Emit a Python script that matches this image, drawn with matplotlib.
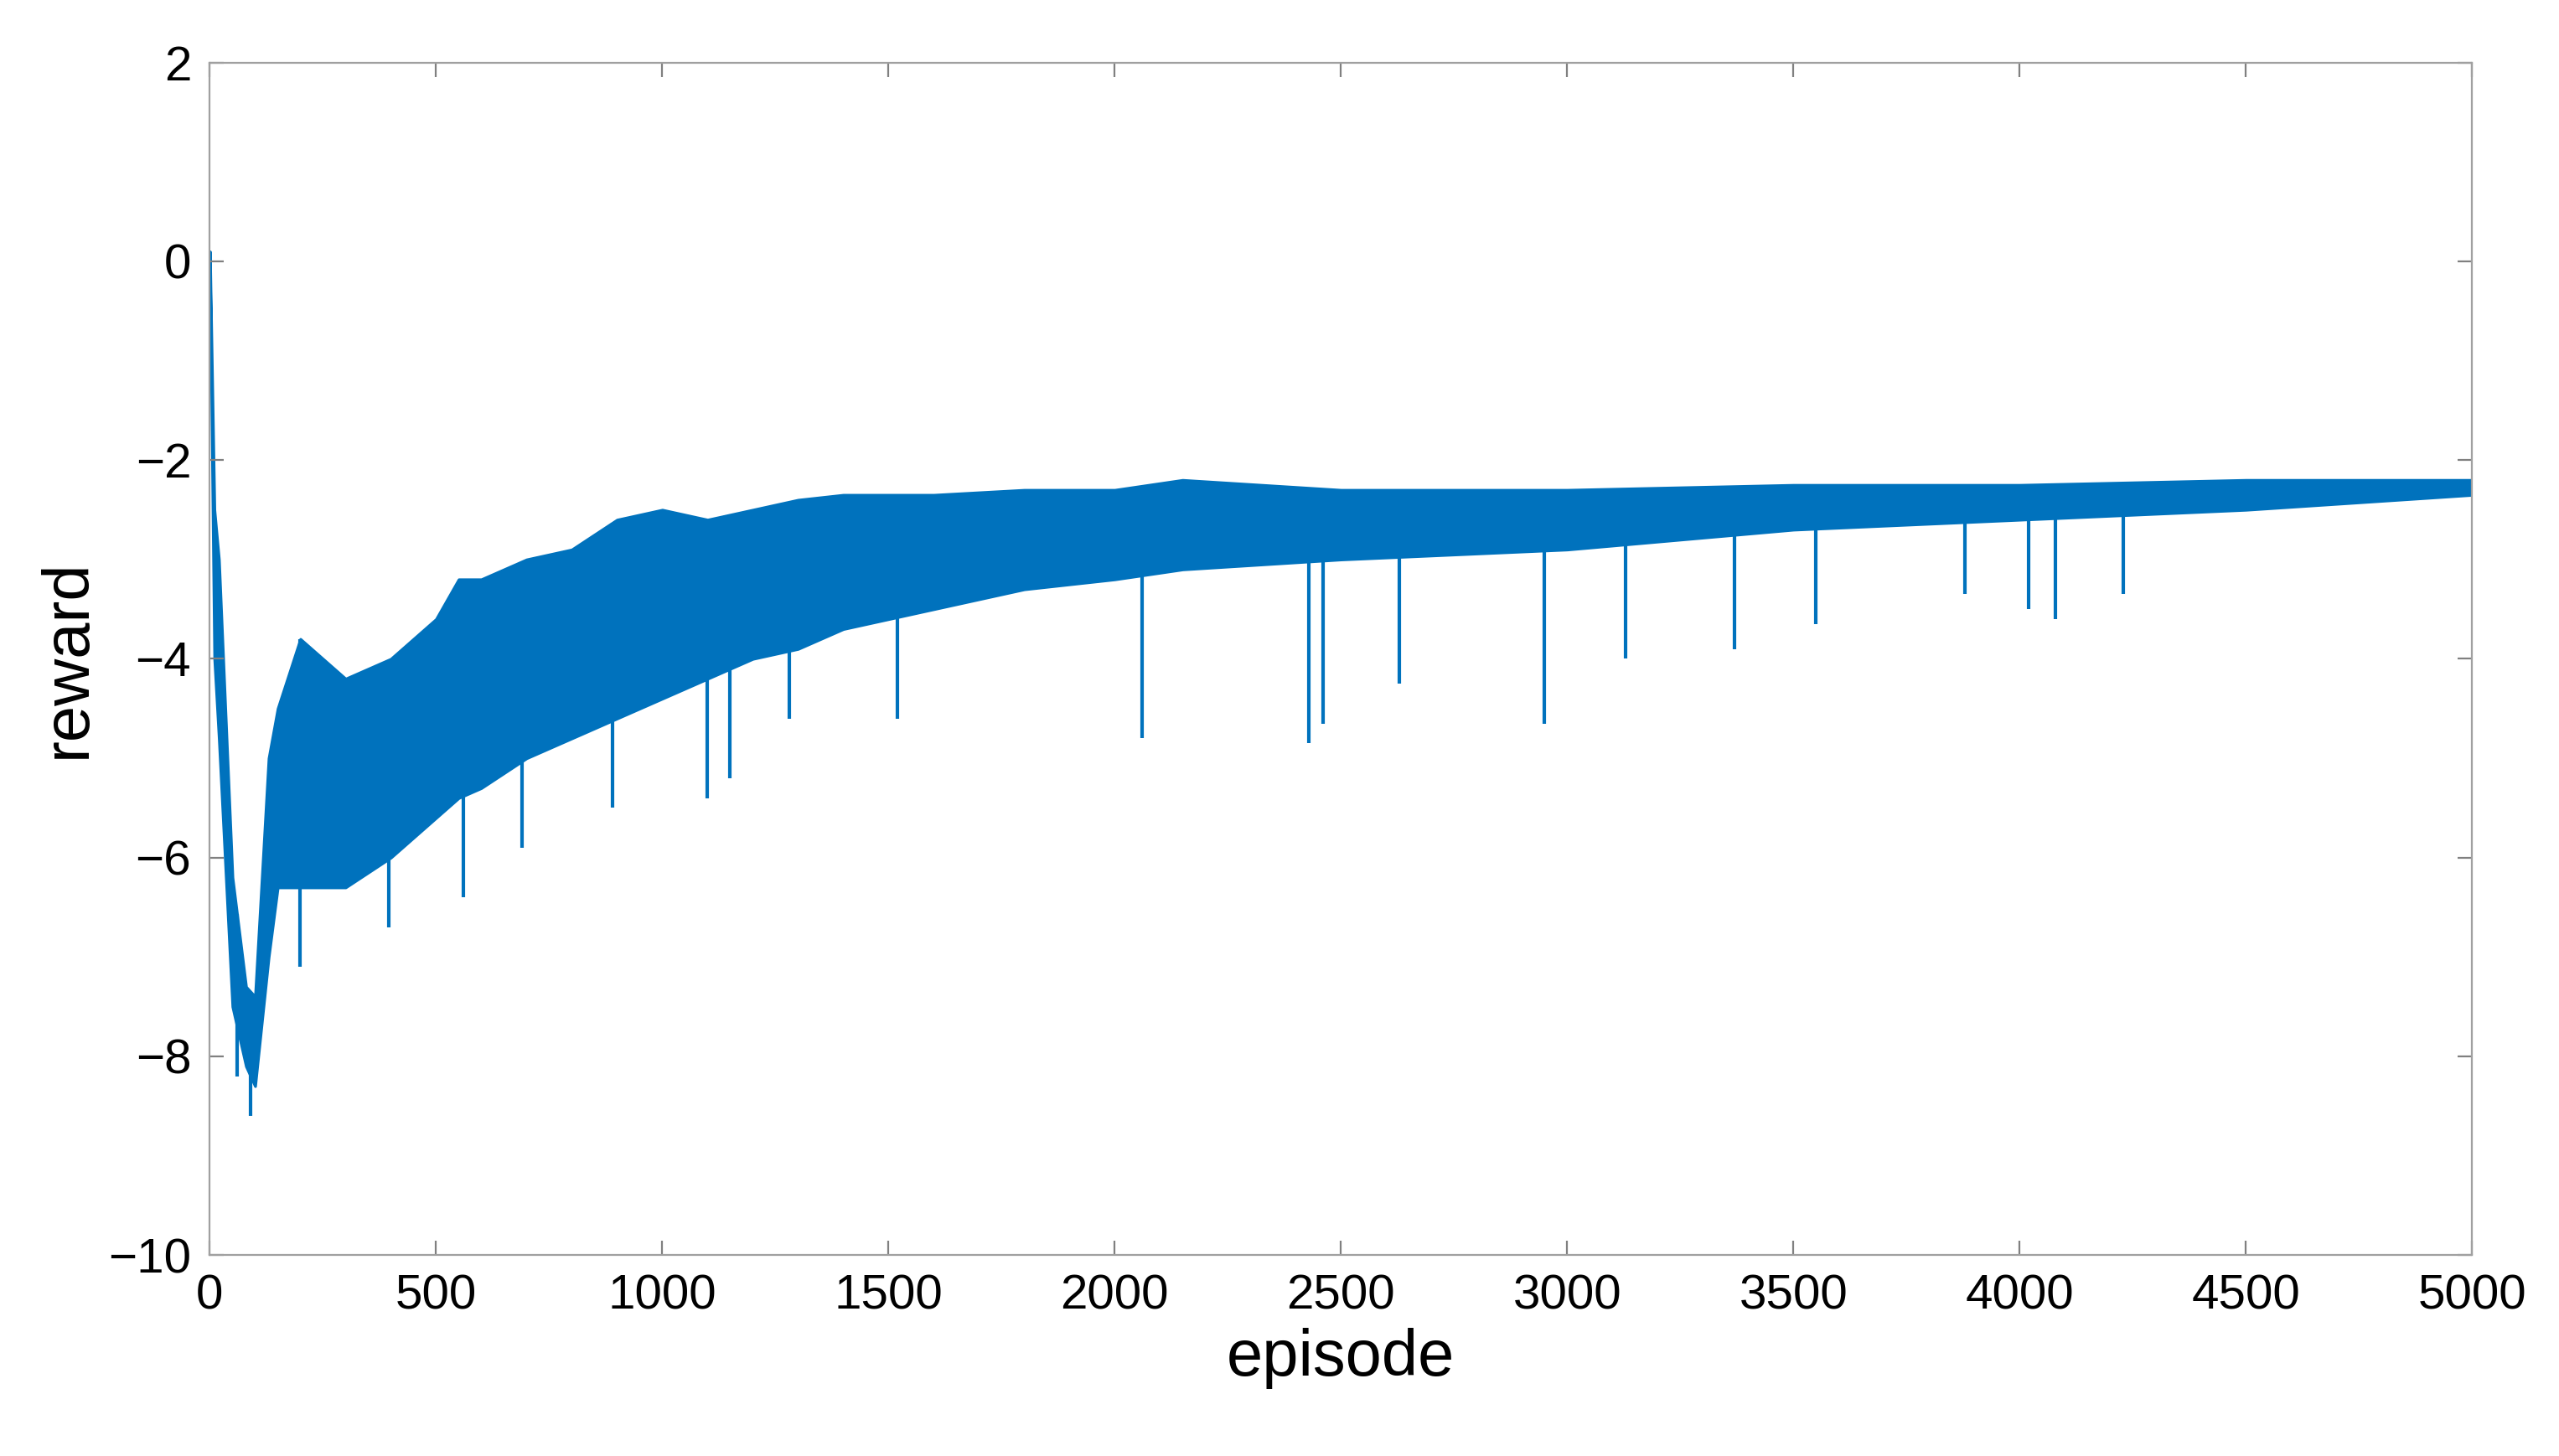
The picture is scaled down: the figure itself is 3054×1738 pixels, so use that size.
import numpy as np
import matplotlib.pyplot as plt

plt.rcParams['font.family'] = ['Liberation Sans', 'DejaVu Sans']

# upper / lower edge of the dense noise band
ep = [0, 10, 20, 50, 80, 100, 130, 150, 200, 300, 400, 500, 550, 600, 700, 800, 900,
      1000, 1100, 1200, 1300, 1400, 1500, 1600, 1800, 2000, 2150, 2500, 3000, 3500,
      4000, 4500, 5000]
upper = [0.1, -2.5, -3.0, -6.2, -7.3, -7.4, -5.0, -4.5, -3.8, -4.2, -4.0, -3.6, -3.2,
         -3.2, -3.0, -2.9, -2.6, -2.5, -2.6, -2.5, -2.4, -2.35, -2.35, -2.35, -2.3,
         -2.3, -2.2, -2.3, -2.3, -2.25, -2.25, -2.2, -2.2]
lower = [0.0, -4.0, -4.8, -7.5, -8.1, -8.3, -7.0, -6.3, -6.3, -6.3, -6.0, -5.6, -5.4,
         -5.3, -5.0, -4.8, -4.6, -4.4, -4.2, -4.0, -3.9, -3.7, -3.6, -3.5, -3.3, -3.2,
         -3.1, -3.0, -2.9, -2.7, -2.6, -2.5, -2.35]

# isolated downward spikes
spike_ep = [60, 90, 200, 395, 560, 690, 890, 1100, 1150, 1280, 1520, 2060, 2430, 2460,
            2630, 2950, 3130, 3370, 3550, 3880, 4020, 4080, 4230]
spike_val = [-8.2, -8.6, -7.1, -6.7, -6.4, -5.9, -5.5, -5.4, -5.2, -4.6, -4.6, -4.8,
             -4.85, -4.65, -4.25, -4.65, -4.0, -3.9, -3.65, -3.35, -3.5, -3.6, -3.35]

blue = '#0072BD'
fig = plt.figure(figsize=(15.27, 8.69), dpi=200)
ax = fig.add_axes([0.082, 0.138, 0.884, 0.819])
ax.fill_between(ep, lower, upper, color=blue, linewidth=1.2, edgecolor=blue)
spike_top = np.interp(spike_ep, ep, upper)
ax.vlines(spike_ep, spike_val, spike_top, color=blue, linewidth=1.5)

ax.set_xlim(0, 5000)
ax.set_ylim(-10, 2)
ax.set_xticks(np.arange(0, 5001, 500))
ax.set_yticks(np.arange(-10, 3, 2))
ax.set_yticklabels(['\u221210', '\u22128', '\u22126', '\u22124', '\u22122', '0', '2'])
ax.tick_params(direction='in', top=True, right=True, labelsize=21, length=6,
               color='#808080', pad=8)
for s in ax.spines.values():
    s.set_color('#A0A0A0')
ax.set_xlabel('episode', fontsize=28, labelpad=4)
ax.set_ylabel('reward', fontsize=28, labelpad=4)
fig.savefig('out.png', dpi=200)
